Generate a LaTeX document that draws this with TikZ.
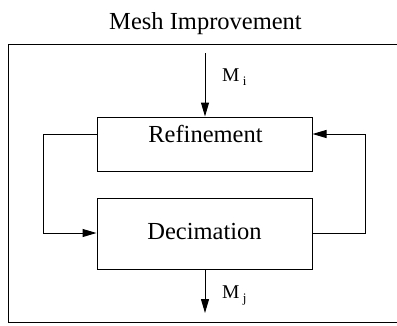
\documentclass[tikz,border=0pt]{standalone}
\usepackage{fontspec}
\setmainfont{Liberation Serif}
\usetikzlibrary{arrows.meta}
\begin{document}
\begin{tikzpicture}[x=1pt,y=-1pt,
  box/.style={draw,line width=1pt,minimum width=215pt,minimum height=54pt,inner sep=0pt},
  txt/.style={anchor=base,inner sep=0pt,font=\fontsize{24.5}{28}\selectfont},
  conn/.style={line width=1pt,-{Triangle[length=14pt,width=8pt]}},
  lbl/.style={anchor=base west,inner sep=0pt,font=\fontsize{19.5}{22}\selectfont}]
\useasboundingbox (0,0) rectangle (397,325);
\node[txt] (title) at (205.5,29.5) {Mesh Improvement};
\draw[line width=1pt] (399,44) -- (8,44) -- (8,322) -- (399,322);
\node[box] (ref) at (204.5,144) {};
\node[txt] (reft) at (205.5,142) {Refinement};
\node[box,minimum height=71pt] (dec) at (204.5,233.5) {};
\node[txt] (dect) at (204.5,239) {Decimation};
\coordinate (tin) at (205,53);
\coordinate (tout) at (205,313);
\draw[conn] (tin) -- (tin |- ref.north);
\draw[conn] (dec.south -| tout) -- (tout);
\node[lbl] (mi) at (222,81) {M\,\raisebox{-4pt}{\fontsize{13}{14}\selectfont i}};
\node[lbl] (mj) at (222,298) {M\,\raisebox{-4pt}{\fontsize{13}{14}\selectfont j}};
\coordinate (lt) at (43,134);
\coordinate (lb) at (43,233);
\coordinate (rt) at (365,134);
\coordinate (rb) at (365,233);
\draw[conn] (ref.west |- lt) -- (lt) -- (lb) -- (dec.west |- lb);
\draw[conn] (dec.east |- rb) -- (rb) -- (rt) -- (ref.east |- rt);
\end{tikzpicture}
\end{document}
